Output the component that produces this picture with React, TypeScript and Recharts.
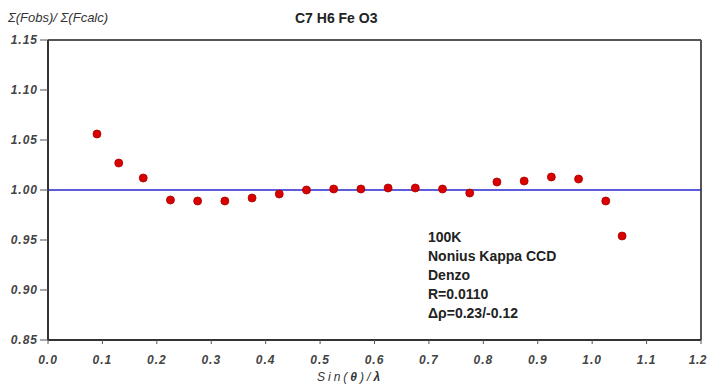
import { ScatterChart, Scatter, XAxis, YAxis, ReferenceLine } from "recharts";

// sin(theta)/lambda bin centres and the matching Fobs/Fcalc ratios
const sinThetaLambda = [
  0.09, 0.13, 0.175, 0.225, 0.275, 0.325, 0.375, 0.425, 0.475, 0.525, 0.575,
  0.625, 0.675, 0.725, 0.775, 0.825, 0.875, 0.925, 0.975, 1.025, 1.055,
];
const fRatio = [
  1.056, 1.027, 1.012, 0.99, 0.989, 0.989, 0.992, 0.996, 1.0, 1.001, 1.001,
  1.002, 1.002, 1.001, 0.997, 1.008, 1.009, 1.013, 1.011, 0.989, 0.954,
];

const xTicks = [0, 0.1, 0.2, 0.3, 0.4, 0.5, 0.6, 0.7, 0.8, 0.9, 1.0, 1.1, 1.2];
const yTicks = [0.85, 0.9, 0.95, 1.0, 1.05, 1.1, 1.15];

const infoLines = [
  "100K",
  "Nonius Kappa CCD",
  "Denzo",
  "R=0.0110",
  "\u0394\u03c1=0.23/-0.12",
];

const font = "'Liberation Sans', Arial, sans-serif";

const points = sinThetaLambda.map((x, i) => ({ x, y: fRatio[i] }));

const tickStyle = {
  fontFamily: font,
  fontSize: 12,
  fontStyle: "italic",
  fontWeight: "bold",
  fill: "#444",
};

const Dot = (props: any) => {
  const { cx, cy } = props;
  if (cx == null || cy == null) return null;
  return <circle cx={cx} cy={cy} r={4} fill="#d90000" stroke="#a80000" strokeWidth={0.8} />;
};

// x tick label; the last one is nudged left so it stays inside the page
const XTick = (props: any) => {
  const { x, y, payload } = props;
  const last = payload.value >= 1.2;
  return (
    <text
      x={last ? x - 2 : x}
      y={y}
      dy="0.71em"
      textAnchor={last ? "end" : "middle"}
      {...tickStyle}
      letterSpacing={last ? 0.5 : 1}
      dx={last ? 8 : 0}
    >
      {Number(payload.value).toFixed(1)}
    </text>
  );
};

export default function App() {
  return (
    <div style={{ position: "relative", width: 709, height: 387, background: "#fff" }}>
      <style>{`body{margin:0}`}</style>
      <div
        style={{
          position: "absolute",
          left: 8,
          top: 10,
          fontFamily: font,
          fontSize: 13,
          fontStyle: "italic",
          color: "#333",
        }}
      >
        Σ(Fobs)/ Σ(Fcalc)
      </div>
      <div
        style={{
          position: "absolute",
          left: 295,
          top: 10,
          fontFamily: font,
          fontSize: 14,
          fontWeight: "bold",
          color: "#222",
        }}
      >
        C7 H6 Fe O3
      </div>
      <ScatterChart
        width={709}
        height={387}
        margin={{ top: 40, right: 8, bottom: 0, left: 0 }}
      >
        <XAxis
          type="number"
          dataKey="x"
          domain={[0, 1.2]}
          ticks={xTicks}
          interval={0}
          height={47}
          tickSize={4}
          tickMargin={11}
          tick={<XTick />}
          axisLine={{ stroke: "#333", strokeWidth: 2 }}
          tickLine={{ stroke: "#555" }}
        />
        <YAxis
          type="number"
          dataKey="y"
          domain={[0.85, 1.15]}
          ticks={yTicks}
          interval={0}
          tickFormatter={(v: number) => v.toFixed(2)}
          width={48}
          tickSize={8}
          tickMargin={2}
          tick={{ ...tickStyle, letterSpacing: 1 }}
          axisLine={{ stroke: "#333", strokeWidth: 2 }}
          tickLine={{ stroke: "#555" }}
        />
        <ReferenceLine y={1.15} stroke="#555" strokeWidth={2} />
        <ReferenceLine x={1.2} stroke="#555" strokeWidth={2} />
        <ReferenceLine y={1.0} stroke="#2626d0" strokeWidth={1.5} />
        <Scatter data={points} shape={<Dot />} isAnimationActive={false} />
      </ScatterChart>
      <div
        style={{
          position: "absolute",
          left: 317,
          top: 370,
          fontFamily: font,
          fontSize: 12,
          fontStyle: "italic",
          letterSpacing: 3,
          color: "#333",
        }}
      >
        Sin(<b>θ</b>)/<b>λ</b>
      </div>
      <div
        style={{
          position: "absolute",
          left: 428,
          top: 228,
          fontFamily: font,
          fontSize: 14,
          fontWeight: "bold",
          color: "#222",
          lineHeight: "19px",
        }}
      >
        {infoLines.map((t) => (
          <div key={t}>{t}</div>
        ))}
      </div>
    </div>
  );
}
